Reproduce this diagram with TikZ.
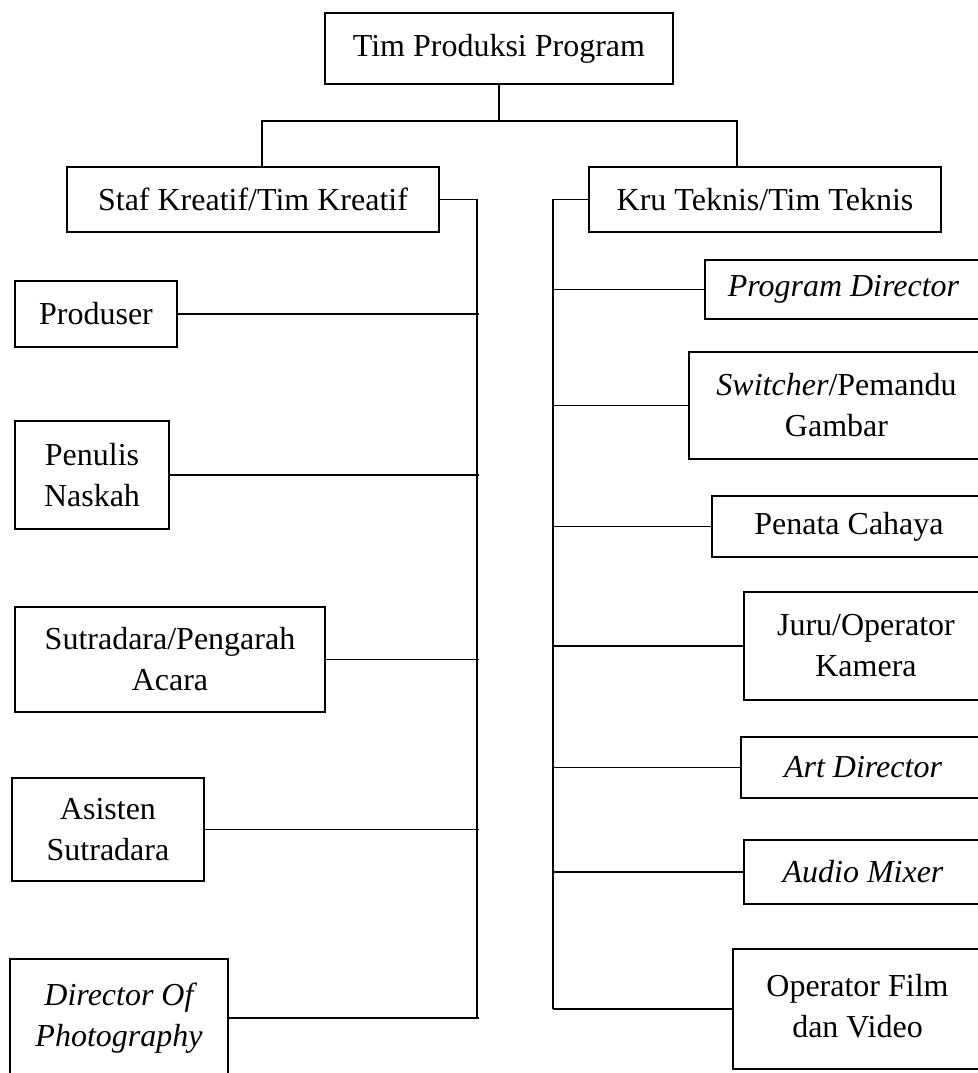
\documentclass[tikz,border=0pt]{standalone}
\usepackage{fontspec}
\setmainfont{Liberation Serif}
\begin{document}
\begin{tikzpicture}[x=0.5pt,y=-0.5pt]

    \tikzset{
      box/.style={
        draw,
        line width=0.7pt,
        inner sep=0pt,
        align=center,
        font=\fontsize{16}{20.5}\selectfont,
      },
      link/.style={
        line width=0.7pt,
      },
    }
    \useasboundingbox (0,0) rectangle (978,1073);
    \clip (0,0) rectangle (978,1073);

	\node[box, minimum width=174pt, minimum height=35.5pt] (top) at (499,48.5) {\raisebox{2.5pt}{Tim Produksi Program}};
	\node[box, minimum width=186pt, minimum height=32.5pt] (staf) at (253,199.5) {Staf Kreatif/Tim Kreatif};
	\node[box, minimum width=176pt, minimum height=32.5pt] (kru) at (765,199.5) {Kru Teknis/Tim Teknis};

	% left branch
	\node[box, minimum width=81pt, minimum height=33pt] (prod) at (96,314) {Produser};
	\node[box, minimum width=77pt, minimum height=54pt] (penulis) at (92,475) {Penulis\\Naskah};
	\node[box, minimum width=155pt, minimum height=52.5pt] (sutradara) at (170,659.5) {Sutradara/Pengarah\\Acara};
	\node[box, minimum width=96pt, minimum height=51.5pt] (asisten) at (108,829.5) {Asisten\\Sutradara};
	\node[box, minimum width=109pt, minimum height=59pt] (dop) at (119,1018) {\itshape Director Of\\\itshape Photography};

	% right branch
	\node[box, minimum width=138.5pt, minimum height=29.5pt] (pd) at (843.5,289.5) {\itshape Program Director};
	\node[box, minimum width=147.5pt, minimum height=53.5pt] (switcher) at (836.5,405.5) {\textit{Switcher}/Pemandu\\Gambar};
	\node[box, minimum width=137pt, minimum height=30.5pt] (penata) at (849,526.5) {Penata Cahaya};
	\node[box, minimum width=122pt, minimum height=54pt] (juru) at (866,646) {Juru/Operator\\Kamera};
	\node[box, minimum width=122pt, minimum height=30.5pt] (art) at (863,767.5) {\itshape Art Director};
	\node[box, minimum width=119pt, minimum height=32pt] (audio) at (863,872) {\itshape Audio Mixer};
	\node[box, minimum width=124.5pt, minimum height=60pt] (opr) at (857.5,1009) {\raisebox{4.5pt}{\begin{tabular}{@{}c@{}}Operator Film\\dan Video\end{tabular}}};

	% connectors
	\coordinate (sl) at (262,121);
	\coordinate (sr) at (737,121);
	\coordinate (ltrunk) at (477,0);
	\coordinate (rtrunk) at (553,0);
	\draw[link] (top.south) -- (top.south |- sl);
	\draw[link] (staf.north -| sl) -- (sl) -- (sr) -- (kru.north -| sr);
	\draw[link] (staf.east) -- (staf.east -| ltrunk) -- (ltrunk |- dop.east);
	\draw[link] (kru.west) -- (kru.west -| rtrunk) -- (rtrunk |- opr.west);
	\foreach \n in {prod,penulis,sutradara,asisten,dop}
	  \draw[link] (\n.east) -- ([xshift=1pt]\n.east -| ltrunk);
	\foreach \n in {pd,switcher,penata,juru,art,audio,opr}
	  \draw[link] (\n.west) -- (\n.west -| rtrunk);

\end{tikzpicture}
\end{document}
